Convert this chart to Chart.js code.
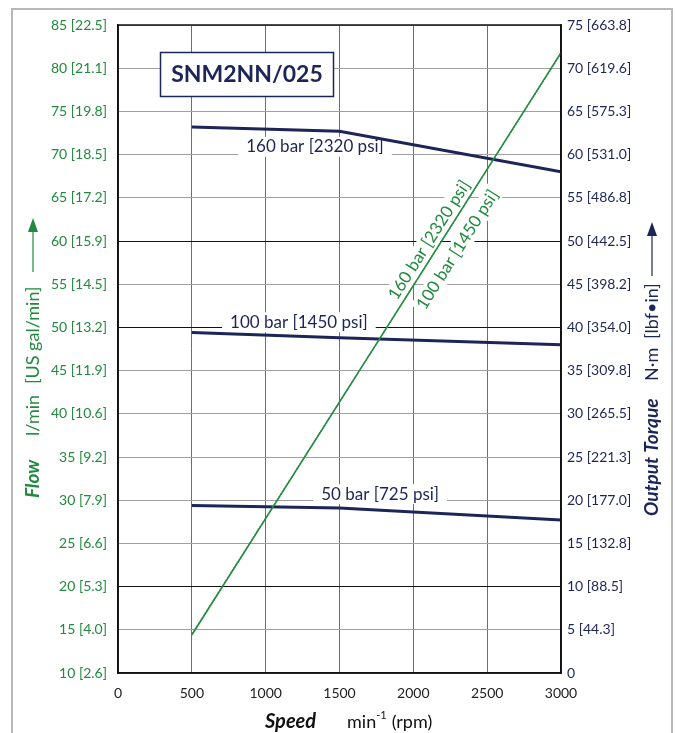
<!DOCTYPE html>
<html>
<head>
<meta charset="utf-8">
<script src="https://cdn.jsdelivr.net/npm/chart.js@4.4.1/dist/chart.umd.min.js"></script>
<style>
  body { margin: 0; background: #fff; }
  #chart { display: block; }
</style>
</head>
<body>
<canvas id="chart" width="675" height="733"></canvas>
<script>
// speed axis (min-1)
const speedTorque = [500, 1500, 3000];
const speedFlow = [500, 3000];

// flow (l/min), left axis
const flow160 = [14.4, 81.8];
const flow100 = [14.5, 81.7];

// output torque (N·m), right axis
const torque160 = [63.2, 62.7, 58.0];
const torque100 = [39.4, 38.8, 38.0];
const torque50 = [19.4, 19.1, 17.7];

// tick labels
const flowTicks = [10, 15, 20, 25, 30, 35, 40, 45, 50, 55, 60, 65, 70, 75, 80, 85];
const galTicks = ['2.6', '4.0', '5.3', '6.6', '7.9', '9.2', '10.6', '11.9', '13.2', '14.5', '15.9', '17.2', '18.5', '19.8', '21.1', '22.5'];
const torqueTicks = [0, 5, 10, 15, 20, 25, 30, 35, 40, 45, 50, 55, 60, 65, 70, 75];
const lbfTicks = ['', '44.3', '88.5', '132.8', '177.0', '221.3', '265.5', '309.8', '354.0', '398.2', '442.5', '486.8', '531.0', '575.3', '619.6', '663.8'];

const GREEN = '#228a3e';
const NAVY = '#1c2557';
const FONT = 'Lato, "Noto Sans", sans-serif';

const pts = (xs, ys) => xs.map((x, i) => ({ x: x, y: ys[i] }));

// white boxed text, optionally rotated
function boxText(ctx, text, x, y, font, color, angle, pad) {
    ctx.save();
    ctx.translate(x, y);
    ctx.rotate(angle || 0);
    ctx.font = font;
    const w = ctx.measureText(text).width;
    ctx.fillStyle = '#fff';
    ctx.fillRect(-w / 2 - pad, -10, w + pad * 2, 20);
    ctx.fillStyle = color;
    ctx.textAlign = 'center';
    ctx.textBaseline = 'middle';
    ctx.fillText(text, 0, 0);
    ctx.restore();
}

function vertText(ctx, text, x, yBottom, font, color) {
    ctx.save();
    ctx.translate(x, yBottom);
    ctx.rotate(-Math.PI / 2);
    ctx.font = font;
    ctx.fillStyle = color;
    ctx.textAlign = 'left';
    ctx.textBaseline = 'middle';
    ctx.fillText(text, 0, 0);
    ctx.restore();
}

function vertArrow(ctx, x, yFrom, yTip, color) {
    ctx.save();
    ctx.strokeStyle = color;
    ctx.fillStyle = color;
    ctx.lineWidth = 1.2;
    ctx.beginPath();
    ctx.moveTo(x, yFrom);
    ctx.lineTo(x, yTip + 12);
    ctx.stroke();
    ctx.beginPath();
    ctx.moveTo(x, yTip);
    ctx.lineTo(x - 5, yTip + 14);
    ctx.lineTo(x + 5, yTip + 14);
    ctx.closePath();
    ctx.fill();
    ctx.restore();
}

const decor = {
    id: 'decor',
    beforeDraw(chart) {
        const ctx = chart.ctx;
        ctx.save();
        ctx.fillStyle = '#fff';
        ctx.fillRect(0, 0, chart.width, chart.height);
        ctx.strokeStyle = '#b8b8b8';
        ctx.lineWidth = 2;
        ctx.strokeRect(12, 9, 660, 740);
        ctx.restore();
    },
    beforeDatasetsDraw(chart) {
        const ctx = chart.ctx;
        const x = chart.scales.x, y = chart.scales.y, y1 = chart.scales.y1;

        // title box
        ctx.save();
        ctx.fillStyle = '#fff';
        ctx.fillRect(160, 52, 174, 45);
        ctx.strokeStyle = NAVY;
        ctx.lineWidth = 1.5;
        ctx.strokeRect(160.5, 52.5, 173, 44);
        ctx.font = 'bold 23px ' + FONT;
        ctx.fillStyle = NAVY;
        ctx.textAlign = 'center';
        ctx.textBaseline = 'middle';
        ctx.fillText('SNM2NN/025', 247, 75);
        ctx.restore();

        // torque curve labels
        const f = '17px ' + FONT;
        boxText(ctx, '160 bar [2320 psi]', x.getPixelForValue(1334), y1.getPixelForValue(60.9), f, NAVY, 0, 8);
        boxText(ctx, '100 bar [1450 psi]', x.getPixelForValue(1225), y1.getPixelForValue(40.6), f, NAVY, 0, 8);
        boxText(ctx, '50 bar [725 psi]', x.getPixelForValue(1775), y1.getPixelForValue(20.7), f, NAVY, 0, 8);

        // flow curve labels along the line
        const ax = x.getPixelForValue(speedFlow[0]), ay = y.getPixelForValue(flow160[0]);
        const bx = x.getPixelForValue(speedFlow[1]), by = y.getPixelForValue(flow160[1]);
        const ang = Math.atan2(by - ay, bx - ax);
        const ux = Math.cos(ang), uy = Math.sin(ang);
        const nx = uy, ny = -ux;
        const t = (x.getPixelForValue(2000) - ax) / ux;
        const px = ax + ux * t, py = ay + uy * t;
        boxText(ctx, '160 bar [2320 psi]', px + ux * 47 + nx * 11, py + uy * 47 + ny * 11, f, GREEN, ang, 3);
        boxText(ctx, '100 bar [1450 psi]', px + ux * 54 - nx * 18, py + uy * 54 - ny * 18, f, GREEN, ang, 3);
    },
    afterDraw(chart) {
        const ctx = chart.ctx;
        const a = chart.chartArea;
        ctx.save();
        ctx.strokeStyle = '#111';
        ctx.lineWidth = 1.5;
        ctx.strokeRect(a.left, a.top, a.right - a.left, a.bottom - a.top);
        ctx.restore();

        // left axis title
        vertText(ctx, 'Flow', 33, 498, 'italic bold 19px ' + FONT, GREEN);
        vertText(ctx, 'l/min', 33, 436, '18px ' + FONT, GREEN);
        vertText(ctx, '[US gal/min]', 33, 384, '18px ' + FONT, GREEN);
        vertArrow(ctx, 33, 272, 218, GREEN);

        // right axis title
        vertText(ctx, 'Output Torque', 652, 516, 'italic bold 19px ' + FONT, NAVY);
        vertText(ctx, 'N\u00b7m', 652, 381, '18px ' + FONT, NAVY);
        vertText(ctx, '[lbf\u2022in]', 652, 339, '18px ' + FONT, NAVY);
        vertArrow(ctx, 652, 276, 222, NAVY);

        // x axis title
        ctx.save();
        ctx.textBaseline = 'alphabetic';
        ctx.textAlign = 'left';
        ctx.fillStyle = '#111';
        ctx.font = 'italic bold 20px ' + FONT;
        ctx.fillText('Speed', 265, 728);
        ctx.font = '18px ' + FONT;
        ctx.fillText('min', 347, 728);
        let w = ctx.measureText('min').width;
        ctx.font = '11px ' + FONT;
        ctx.fillText('-1', 347 + w, 719);
        w += ctx.measureText('-1').width + 5;
        ctx.font = '18px ' + FONT;
        ctx.fillText('(rpm)', 347 + w, 728);
        ctx.restore();
    }
};

const gridColor = (ctx) => {
    const v = ctx.tick && ctx.tick.value;
    if (v === 20 || v === 50 || v === 60) return '#111';
    return '#a0a0a0';
};

new Chart(document.getElementById('chart'), {
    type: 'line',
    data: {
        datasets: [
            {
                label: 'Flow 160 bar',
                data: pts(speedFlow, flow160),
                yAxisID: 'y',
                borderColor: GREEN,
                borderWidth: 1.5,
                pointRadius: 0
            },
            {
                label: 'Flow 100 bar',
                data: pts(speedFlow, flow100),
                yAxisID: 'y',
                borderColor: '#3f9a55',
                borderWidth: 1.2,
                borderDash: [2, 1],
                pointRadius: 0
            },
            {
                label: 'Torque 160 bar',
                data: pts(speedTorque, torque160),
                yAxisID: 'y1',
                borderColor: NAVY,
                borderWidth: 3,
                pointRadius: 0
            },
            {
                label: 'Torque 100 bar',
                data: pts(speedTorque, torque100),
                yAxisID: 'y1',
                borderColor: NAVY,
                borderWidth: 3,
                pointRadius: 0
            },
            {
                label: 'Torque 50 bar',
                data: pts(speedTorque, torque50),
                yAxisID: 'y1',
                borderColor: NAVY,
                borderWidth: 3,
                pointRadius: 0
            }
        ]
    },
    options: {
        responsive: false,
        animation: false,
        devicePixelRatio: 1,
        layout: {
            padding: { top: 25, left: 0, right: 0, bottom: 0 }
        },
        plugins: {
            legend: { display: false },
            tooltip: { enabled: false }
        },
        scales: {
            x: {
                type: 'linear',
                min: 0,
                max: 3000,
                ticks: {
                    stepSize: 500,
                    color: '#222',
                    padding: 12,
                    font: { family: FONT, size: 14 },
                    callback: (v) => String(v)
                },
                grid: { color: '#6e6e6e', drawTicks: false },
                border: { color: '#111', width: 1.5 },
                afterFit: (s) => { s.height = 60; }
            },
            y: {
                position: 'left',
                min: flowTicks[0],
                max: flowTicks[flowTicks.length - 1],
                afterBuildTicks: (s) => { s.ticks = flowTicks.map(v => ({ value: v })); },
                ticks: {
                    color: GREEN,
                    padding: 11,
                    font: { family: FONT, size: 14 },
                    callback: (v) => v + ' [' + galTicks[flowTicks.indexOf(v)] + ']'
                },
                grid: { color: gridColor, drawTicks: false },
                border: { color: '#111', width: 1.5 },
                afterFit: (s) => { s.width = 118; }
            },
            y1: {
                position: 'right',
                min: torqueTicks[0],
                max: torqueTicks[torqueTicks.length - 1],
                afterBuildTicks: (s) => { s.ticks = torqueTicks.map(v => ({ value: v })); },
                ticks: {
                    color: NAVY,
                    padding: 6,
                    font: { family: FONT, size: 14 },
                    callback: (v) => {
                        const l = lbfTicks[torqueTicks.indexOf(v)];
                        return l ? v + ' [' + l + ']' : String(v);
                    }
                },
                grid: { drawOnChartArea: false, drawTicks: false },
                border: { color: '#111', width: 1.5 },
                afterFit: (s) => { s.width = 114; }
            }
        }
    },
    plugins: [decor]
});
</script>
</body>
</html>
